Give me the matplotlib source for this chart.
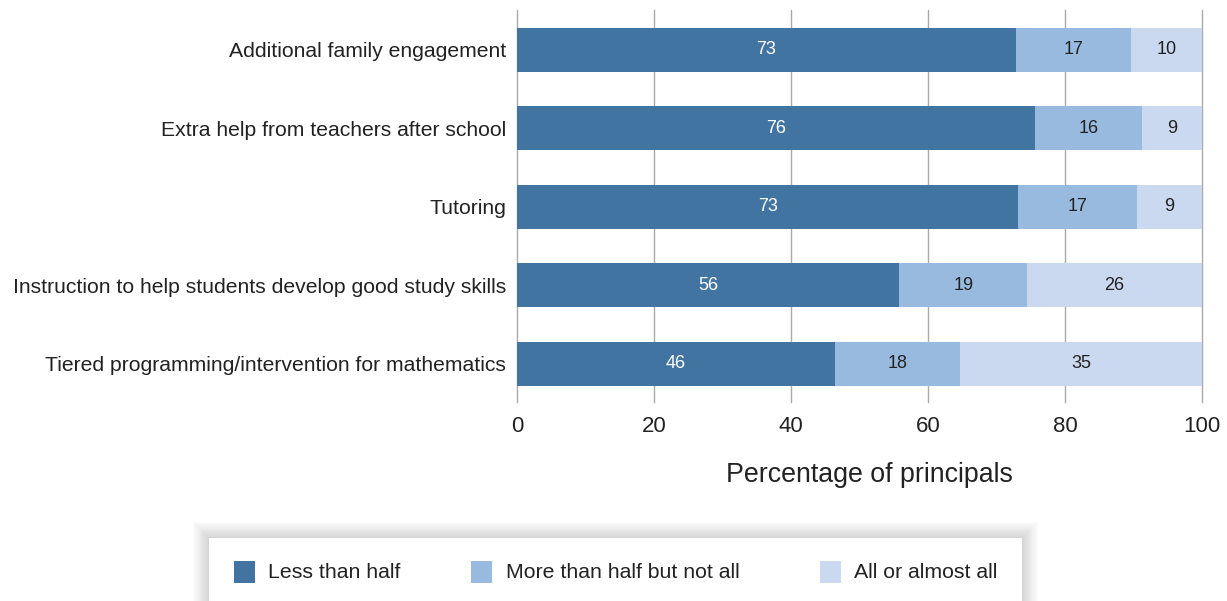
import matplotlib
matplotlib.use("Agg")
import matplotlib.pyplot as plt
from matplotlib.patches import Rectangle
import numpy as np

plt.rcParams['font.family'] = ['Liberation Sans', 'DejaVu Sans']

categories = [
    "Additional family engagement",
    "Extra help from teachers after school",
    "Tutoring",
    "Instruction to help students develop good study skills",
    "Tiered programming/intervention for mathematics",
]
series_names = ["Less than half", "More than half but not all", "All or almost all"]
less_than_half = [72.8, 75.6, 73.2, 55.8, 46.4]
more_than_half = [16.8, 15.6, 17.3, 18.7, 18.3]
all_or_almost = [10.4, 8.8, 9.5, 25.5, 35.3]
labels_less = [73, 76, 73, 56, 46]
labels_more = [17, 16, 17, 19, 18]
labels_all = [10, 9, 9, 26, 35]
xticks = [0, 20, 40, 60, 80, 100]
xlabel = "Percentage of principals"

colors = ["#4274A2", "#98BADF", "#CAD9EF"]
text_colors = ["white", "#222222", "#222222"]

W, H = 1227, 601
fig = plt.figure(figsize=(W / 100, H / 100), dpi=100)
ax = fig.add_axes([517 / W, 1 - 402 / H, (1202 - 517) / W, (402 - 10) / H])

y = np.arange(len(categories))
series = [less_than_half, more_than_half, all_or_almost]
labels = [labels_less, labels_more, labels_all]
left = np.zeros(len(categories))
for vals, labs, c, tc in zip(series, labels, colors, text_colors):
    vals = np.array(vals)
    bars = ax.barh(y, vals, left=left, height=0.56, color=c, zorder=3)
    for b, lab in zip(bars, labs):
        ax.text(b.get_x() + b.get_width() / 2, b.get_y() + b.get_height() / 2, str(lab),
                ha='center', va='center', color=tc, fontsize=13, zorder=4)
    left = left + vals

ax.set_xlim(0, 100)
ax.set_ylim(4.49, -0.51)
ax.set_xticks(xticks)
ax.set_xticklabels([str(t) for t in xticks], fontsize=16, color="#222222")
ax.set_yticks(y)
ax.set_yticklabels(categories, fontsize=15.2, color="#222222")
ax.tick_params(axis='both', length=0)
ax.tick_params(axis='x', pad=10)
ax.tick_params(axis='y', pad=8)
ax.xaxis.grid(True, color="#aaaaaa", linewidth=1, zorder=0)
for gl in ax.get_xgridlines():
    gl.set_clip_on(False)
for s in ax.spines.values():
    s.set_visible(False)
ax.set_xlabel(xlabel, fontsize=19.3, color="#222222", labelpad=18)
ax.xaxis.label.set_x((869 - 517) / (1202 - 517))

# Legend box with soft shadow
bx0, by0, bx1, by1 = 209, 538, 1022, 615
n = 14
for i in range(n):
    g = 16 - i * (16 / n)
    fig.patches.append(Rectangle(((bx0 - g) / W, 1 - (by1 + g) / H), (bx1 - bx0 + 2 * g) / W,
                                 (by1 - by0 + 2 * g) / H, transform=fig.transFigure,
                                 facecolor='black', alpha=0.012, edgecolor='none', zorder=1))
fig.patches.append(Rectangle((bx0 / W, 1 - by1 / H), (bx1 - bx0) / W, (by1 - by0) / H,
                             transform=fig.transFigure, facecolor='white', edgecolor='none', zorder=2))
marker_x = [234, 471, 820]
text_x = [268, 506, 854]
for mx, tx, name, c in zip(marker_x, text_x, series_names, colors):
    fig.patches.append(Rectangle((mx / W, 1 - 583 / H), 21 / W, 22 / H, transform=fig.transFigure,
                                 facecolor=c, edgecolor='none', zorder=3))
    fig.text(tx / W, 1 - 573 / H, name, ha='left', va='center', fontsize=15.3, color="#222222", zorder=4)

fig.savefig("out.png", dpi=100)
